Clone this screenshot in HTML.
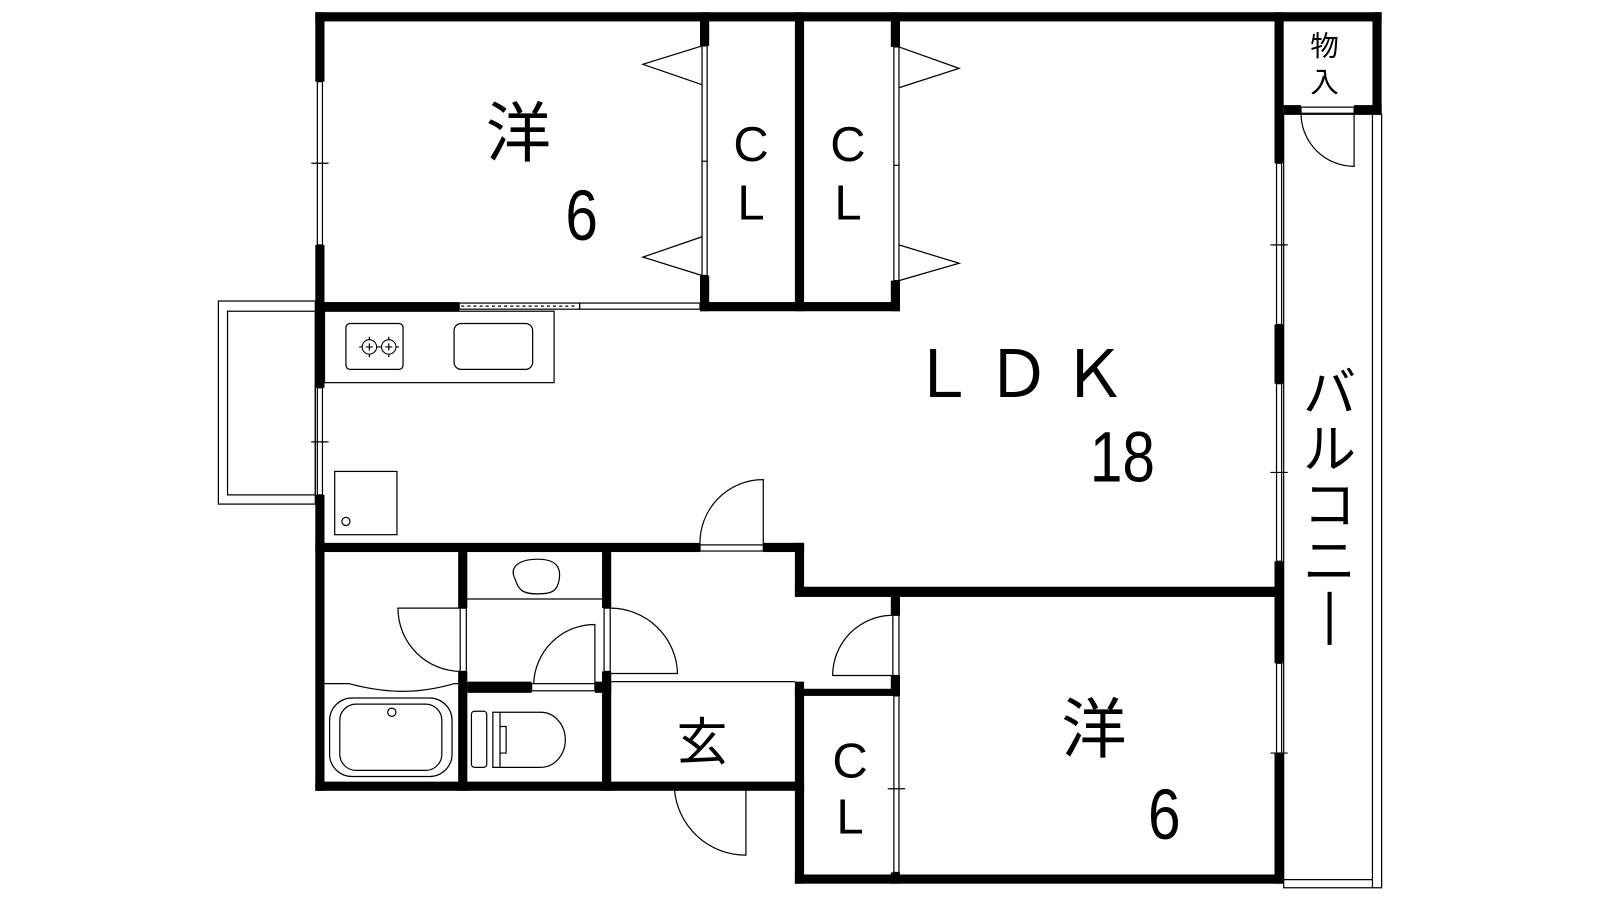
<!DOCTYPE html>
<html><head><meta charset="utf-8"><style>
html,body{margin:0;padding:0;background:#fff;width:1600px;height:900px;overflow:hidden}
svg{display:block}
text{font-family:"Liberation Sans","Noto Sans CJK JP",sans-serif;fill:#000}
</style></head><body>
<svg width="1600" height="900" viewBox="0 0 1568 882" preserveAspectRatio="none">
<g fill="#000">
<rect x="309" y="12" width="1045" height="9"/>
<rect x="309" y="12" width="9" height="68"/>
<rect x="309" y="240" width="9" height="65"/>
<rect x="309" y="296" width="141" height="9"/>
<rect x="686" y="296" width="196" height="9"/>
<rect x="686" y="12" width="9" height="33"/>
<rect x="686" y="270" width="9" height="35"/>
<rect x="779" y="12" width="9" height="293"/>
<rect x="873" y="12" width="9" height="34"/>
<rect x="873" y="275" width="9" height="30"/>
<rect x="1249" y="12" width="9" height="148"/>
<rect x="1249" y="318" width="9" height="58"/>
<rect x="1249" y="550" width="9" height="100"/>
<rect x="1345" y="12" width="9" height="100"/>
<rect x="1258" y="103" width="17" height="9"/>
<rect x="1327" y="103" width="27" height="9"/>
<rect x="309" y="296" width="9" height="84"/>
<rect x="309" y="485" width="9" height="290"/>
<rect x="309" y="532" width="377" height="9"/>
<rect x="748" y="532" width="40" height="9"/>
<rect x="779" y="532" width="9" height="50"/>
<rect x="779" y="575" width="479" height="10"/>
<rect x="449" y="541" width="9" height="55"/>
<rect x="449" y="658" width="9" height="117"/>
<rect x="590" y="541" width="9" height="55"/>
<rect x="590" y="658" width="9" height="117"/>
<rect x="458" y="668" width="63" height="11"/>
<rect x="583" y="668" width="16" height="11"/>
<rect x="309" y="766" width="479" height="9"/>
<rect x="779" y="668" width="9" height="198"/>
<rect x="779" y="857" width="479" height="9"/>
<rect x="873" y="585" width="9" height="18"/>
<rect x="873" y="662" width="9" height="20"/>
<rect x="779" y="675" width="103" height="7"/>
<rect x="873" y="855" width="9" height="11"/>
<rect x="1249" y="738" width="9" height="128"/>
</g>
<g fill="none" stroke="#000" stroke-width="1.2">
<rect x="311" y="80" width="5" height="160"/>
<line x1="305" y1="160" x2="322" y2="160"/>
<rect x="311" y="380" width="5" height="105"/>
<line x1="305" y1="433" x2="322" y2="433"/>
<rect x="1251" y="160" width="5" height="158"/>
<line x1="1245" y1="240" x2="1262" y2="240"/>
<rect x="1251" y="376" width="5" height="174"/>
<line x1="1245" y1="463" x2="1262" y2="463"/>
<rect x="1251" y="650" width="5" height="88"/>
<line x1="1245" y1="738" x2="1262" y2="738"/>
<rect x="876" y="682" width="5" height="173"/>
<line x1="870" y1="773" x2="887" y2="773"/>
<rect x="214" y="295" width="95" height="199"/>
<rect x="223" y="305" width="86" height="180"/>
<rect x="1258" y="112" width="96" height="758"/>
<line x1="1345" y1="112" x2="1345" y2="870"/>
<line x1="1258" y1="862" x2="1345" y2="862"/>
<rect x="450" y="297" width="118" height="6"/>
<line x1="452" y1="300" x2="566" y2="300" stroke-dasharray="3,3"/>
<rect x="568" y="297" width="118" height="6"/>
<rect x="688" y="45" width="5" height="225"/>
<line x1="688" y1="158" x2="693" y2="158"/>
<polyline points="688,45 630,63 688,83"/>
<polyline points="688,232 630,252 688,270"/>
<rect x="876" y="46" width="5" height="229"/>
<line x1="876" y1="162" x2="881" y2="162"/>
<polyline points="881,46 940,67 881,86"/>
<polyline points="881,240 940,258 881,275"/>
<rect x="318" y="305" width="225" height="70"/>
<rect x="339" y="317" width="56" height="45" rx="4"/>
<circle cx="362" cy="340" r="7"/><circle cx="381" cy="340" r="7"/>
<line x1="362" y1="330" x2="362" y2="350"/><line x1="352" y1="340" x2="372" y2="340"/>
<line x1="381" y1="330" x2="381" y2="350"/><line x1="371" y1="340" x2="391" y2="340"/>
<circle cx="362" cy="340" r="5" stroke="#fff" stroke-width="3"/><circle cx="381" cy="340" r="5" stroke="#fff" stroke-width="3"/>
<rect x="445" y="317" width="77" height="45" rx="7"/>
<rect x="328" y="462" width="61" height="62"/>
<circle cx="339" cy="511" r="4"/>
<rect x="686" y="534" width="62" height="6"/>
<path d="M686,534 A62,62 0 0 1 748,470 L748,534"/>
<rect x="1275" y="105" width="52" height="6"/>
<path d="M1275,111 A52,52 0 0 0 1327,163 L1327,111"/>
<path d="M505,568 C498,555 510,548 527,548 C545,548 550,556 548,568 C546,580 540,582 527,582 C512,582 508,578 505,568 Z"/>
<line x1="458" y1="587" x2="590" y2="587"/>
<rect x="451" y="596" width="6" height="62"/>
<path d="M451,596 L390,596 A62,62 0 0 0 451,658"/>
<rect x="521" y="670" width="62" height="7"/>
<path d="M523,670 A60,60 0 0 1 583,612 L583,670"/>
<rect x="592" y="596" width="6" height="62"/>
<path d="M598,596 A66,66 0 0 1 664,660 L598,660"/>
<line x1="599" y1="668" x2="779" y2="668"/>
<rect x="875" y="603" width="6" height="59"/>
<path d="M875,603 A59,59 0 0 0 816,662 L875,662"/>
<path d="M318,670 L342,670 C380,680 410,680 445,670 L449,670"/>
<rect x="323" y="684" width="120" height="77" rx="22"/>
<rect x="333" y="690" width="100" height="65" rx="16"/>
<circle cx="384" cy="698" r="4"/>
<rect x="462" y="697" width="15" height="55" rx="3"/>
<path d="M483,698 L530,698 A24,27 0 0 1 530,752 L483,752 Z"/>
<line x1="490" y1="698" x2="490" y2="752"/>
<path d="M490,712 L496,712 L496,738 L490,738"/>
<rect x="661" y="768" width="70" height="6"/>
<path d="M731,774 L731,838 A70,70 0 0 1 661,774"/>
</g>
<g font-size="64">
<text x="476" y="153">洋</text>
<text x="1040" y="737">洋</text>
</g>
<g font-size="70" text-anchor="middle">
<text x="570" y="235" transform="translate(570 235) scale(0.82 1) translate(-570 -235)">6</text>
<text x="1141" y="822" transform="translate(1141 822) scale(0.82 1) translate(-1141 -822)">6</text>
<text x="1100" y="472" transform="translate(1100 472) scale(0.82 1) translate(-1100 -472)">18</text>
</g>
<g font-size="48" text-anchor="middle">
<text x="736" y="158">C</text><text x="736" y="215">L</text>
<text x="831" y="158">C</text><text x="831" y="215">L</text>
<text x="833" y="762">C</text><text x="833" y="817">L</text>
</g>
<text x="1003" y="389" font-size="64" text-anchor="middle" letter-spacing="10">ＬＤＫ</text>
<text x="688" y="745" font-size="50" text-anchor="middle">玄</text>
<g font-size="28" text-anchor="middle"><text x="1298" y="55">物</text><text x="1298" y="90">入</text></g>
<g font-size="52" text-anchor="middle">
<text x="1303" y="403">バ</text><text x="1303" y="458">ル</text><text x="1303" y="513">コ</text><text x="1303" y="568">ニ</text>
</g>
<rect x="1301" y="580" width="4" height="52" fill="#000"/>
</svg>
</body></html>
